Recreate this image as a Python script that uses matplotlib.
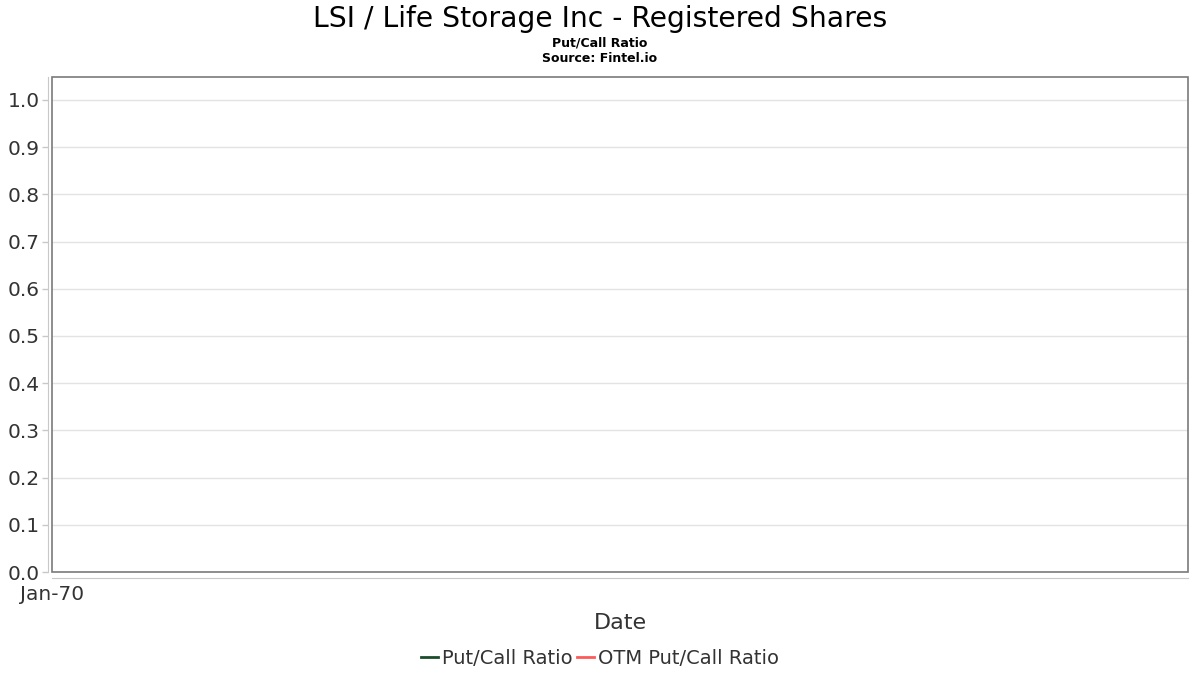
import matplotlib
matplotlib.use("Agg")
import matplotlib.pyplot as plt
import matplotlib.dates as mdates
from matplotlib.patches import Rectangle
from datetime import datetime

# The reference chart has no data points at all, only the empty frame
dates = []
put_call_ratio = []
otm_put_call_ratio = []

y_ticks = [0.0, 0.1, 0.2, 0.3, 0.4, 0.5, 0.6, 0.7, 0.8, 0.9, 1.0]
x_tick_dates = [datetime(1970, 1, 1)]

title = "LSI / Life Storage Inc - Registered Shares"
subtitle = "Put/Call Ratio"
source = "Source: Fintel.io"

text_color = "#333333"

fig = plt.figure(figsize=(12, 6.75), dpi=100)
ax = fig.add_axes([52 / 1200, 1 - 572 / 675, 1136 / 1200, 495 / 675])

ax.plot(dates, put_call_ratio, color="#1b4d2b", linewidth=2, label="Put/Call Ratio")
ax.plot(dates, otm_put_call_ratio, color="#ff5a5a", linewidth=2, label="OTM Put/Call Ratio")

# axis ranges
ax.set_ylim(0, 1.0487)
ax.set_yticks(y_ticks)
ax.set_yticklabels([f"{v:.1f}" for v in y_ticks])
x0 = mdates.date2num(datetime(1970, 1, 1))
ax.set_xlim(x0, x0 + 1)
ax.set_xticks([mdates.date2num(d) for d in x_tick_dates])
ax.xaxis.set_major_formatter(mdates.DateFormatter("%b-%y"))

ax.grid(axis="y", color="#e3e3e3", linewidth=1)
ax.set_axisbelow(True)

# offset spines like the original, plus a darker frame box
for side in ["top", "right"]:
    ax.spines[side].set_visible(False)
ax.spines["left"].set_position(("outward", 3))
ax.spines["bottom"].set_position(("outward", 4))
ax.spines["left"].set_color("#c8c8c8")
ax.spines["bottom"].set_color("#c8c8c8")
ax.add_patch(Rectangle((0, 0), 1, 1, transform=ax.transAxes, fill=False,
                       edgecolor="#7a7a7a", linewidth=1.2, clip_on=False))

ax.tick_params(axis="both", colors="#c8c8c8", labelcolor=text_color,
               labelsize=14.5, length=4, width=1)
ax.tick_params(axis="y", pad=2)
ax.tick_params(axis="x", length=0, pad=5)

ax.set_xlabel("Date", fontsize=16, color=text_color, labelpad=7)

fig.text(0.5, 0.972, title, ha="center", va="center", fontsize=20.3, color="black")
fig.text(0.5, 0.937, subtitle, ha="center", va="center", fontsize=9, fontweight="bold")
fig.text(0.5, 0.913, source, ha="center", va="center", fontsize=9, fontweight="bold")

fig.legend(loc="center", bbox_to_anchor=(0.5, 1 - 658 / 675), ncol=2, frameon=False,
           fontsize=14, handlelength=0.9, handletextpad=0.2, columnspacing=0.2,
           labelcolor=text_color)

plt.savefig("out.png", dpi=100)
